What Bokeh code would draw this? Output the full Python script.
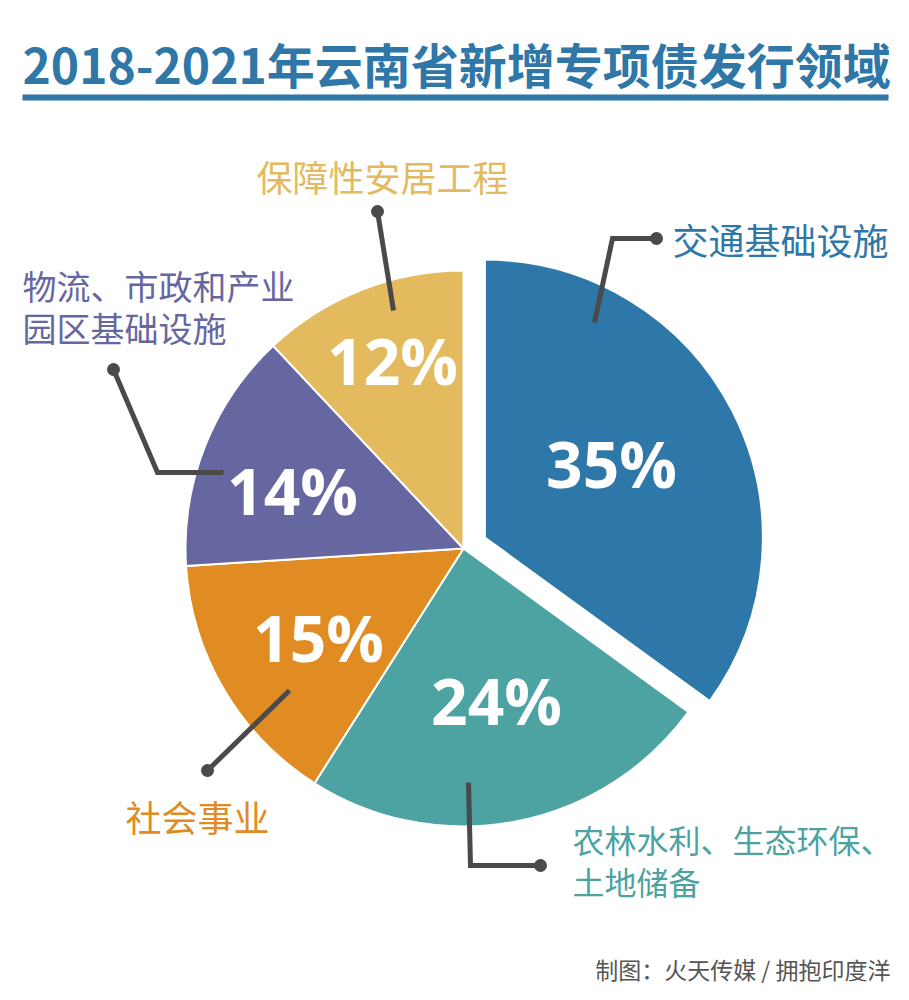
import math
from bokeh.plotting import figure
from bokeh.models import Range1d
from bokeh.core.properties import value
from bokeh.embed import file_html
from bokeh.resources import INLINE

# ---- data ----
categories = ["交通基础设施", "农林水利、生态环保、\n土地储备", "社会事业", "物流、市政和产业\n园区基础设施", "保障性安居工程"]
shares = [35, 24, 15, 14, 12]
pct_labels = ["35%", "24%", "15%", "14%", "12%"]
colors = ["#2E78A9", "#4CA3A1", "#E08C23", "#6667A1", "#E3BA5E"]

W, H = 893, 984
p = figure(width=W, height=H, output_backend="svg", toolbar_location=None,
           x_range=Range1d(0, W), y_range=Range1d(1000 - H, 1000),
           min_border=0, outline_line_color=None)
p.axis.visible = False
p.grid.visible = False
p.background_fill_color = "white"

def Y(py):
    return 1000 - py

CJK = value("Noto Sans CJK SC")

# title
p.text(x=[22], y=[Y(62)], text=["2018-2021年云南省新增专项债发行领域"], text_font=CJK,
       text_font_size="48px", text_font_style="bold", text_color="#2E77A7",
       text_baseline="middle", text_align="left")
p.line(x=[22, 888], y=[Y(97), Y(97)], line_color="#2E77A7", line_width=6)

# pie
cx, cy, R = 463, Y(548), 278
explode = [24, 0, 0, 0, 0]
total = sum(shares)
cum = 0
for i, s in enumerate(shares):
    a0 = math.pi / 2 - 2 * math.pi * cum / total
    a1 = math.pi / 2 - 2 * math.pi * (cum + s) / total
    mid = (a0 + a1) / 2
    ox = explode[i] * math.cos(mid)
    oy = explode[i] * math.sin(mid)
    p.wedge(x=[cx + ox], y=[cy + oy], radius=R, start_angle=[a0], end_angle=[a1],
            direction="clock", fill_color=colors[i], line_color="white", line_width=2)
    cum += s

# percent labels
pct_pos = [(611, 463), (496, 700), (318, 637), (292, 490), (392, 360)]
for (x, y), t in zip(pct_pos, pct_labels):
    p.text(x=[x], y=[Y(y)], text=[t], text_font=value("Open Sans"), text_font_size="64px",
           text_font_style="bold", text_color="white", text_align="center", text_baseline="middle")

# leader lines
lc = "#4A4A4A"
leaders = [
    [(594, 322), (612, 238), (656, 238)],
    [(468, 782), (470, 865), (540, 865)],
    [(289, 690), (207, 770)],
    [(223, 472), (157, 472), (113, 369)],
    [(393, 310), (377, 211)],
]
for pts in leaders:
    xs = [q[0] for q in pts]
    ys = [Y(q[1]) for q in pts]
    p.line(x=xs, y=ys, line_color=lc, line_width=5, line_join="miter")
    p.scatter(x=[xs[-1]], y=[ys[-1]], size=13, fill_color=lc, line_color=None)

# category labels
lab_pos = [(672, 238, "left", 36), (572, 838, "left", 32), (125, 815, "left", 36),
           (22, 285, "left", 34), (382, 175, "center", 36)]
for i, (x, y, al, fs) in enumerate(lab_pos):
    lines = categories[i].split("\n")
    for k, ln in enumerate(lines):
        p.text(x=[x], y=[Y(y + 42 * k)], text=[ln], text_font=CJK, text_font_size=f"{fs}px",
               text_color=colors[i], text_align=al, text_baseline="middle")

# footer
p.text(x=[890], y=[Y(968)], text=["制图：火天传媒 / 拥抱印度洋"], text_font=CJK,
       text_font_size="23px", text_color="#555555", text_align="right", text_baseline="middle")

open("out.html", "w").write(file_html(p, INLINE))
